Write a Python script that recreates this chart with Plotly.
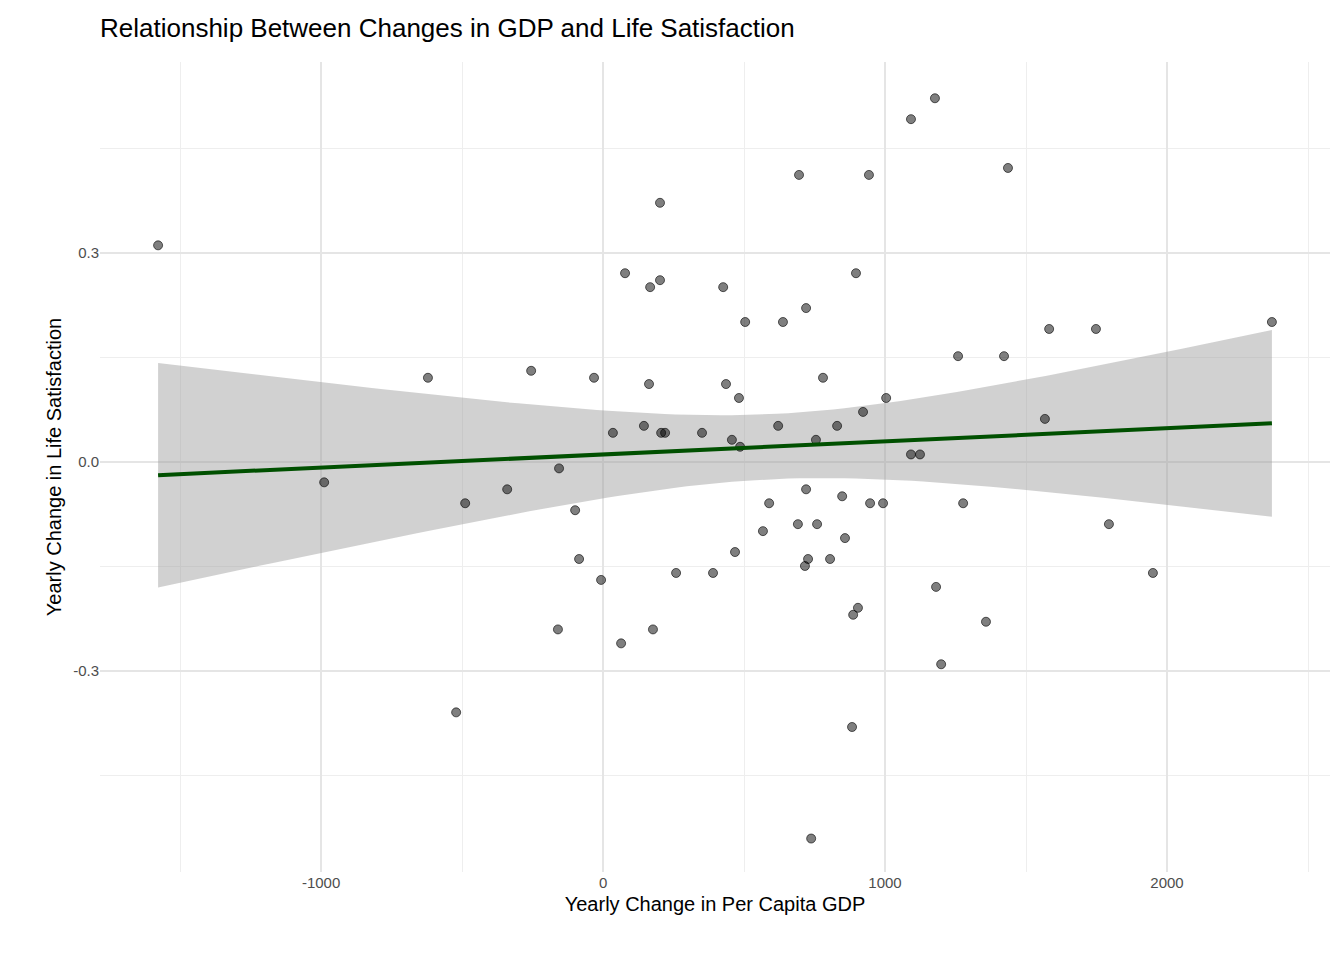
import numpy as np
import plotly.graph_objects as go

gdp_change = [-1578, 1177, 1092, 1436, 695, 943, 202, 78, 202, 167, 426, 897, 720, 504, 638,
              1582, 1748, 2372, 1259, 1422, -621, -255, -32, 163, 436, 780, 482, 922, 1004, 1567,
              35, 145, 206, 220, 351, 457, 486, 621, 755, 830, 1092, 1124, -989, -489, -340,
              -156, -99, -85, -7, 589, 567, 720, 691, 759, 848, 947, 993, 1277, 1794, 468,
              727, 716, 805, 858, 259, 390, 1950, 1181, 904, 887, 1358, -160, 177, 64, 1199,
              -521, 883, 738]
ls_change = [0.311, 0.522, 0.492, 0.422, 0.412, 0.412, 0.372, 0.271, 0.261, 0.251, 0.251, 0.271,
             0.221, 0.201, 0.201, 0.191, 0.191, 0.201, 0.152, 0.152, 0.121, 0.131, 0.121, 0.112,
             0.112, 0.121, 0.092, 0.072, 0.092, 0.062, 0.042, 0.052, 0.042, 0.042, 0.042, 0.032,
             0.022, 0.052, 0.032, 0.052, 0.011, 0.011, -0.029, -0.059, -0.039, -0.009, -0.069,
             -0.139, -0.169, -0.059, -0.099, -0.039, -0.089, -0.089, -0.049, -0.059, -0.059,
             -0.059, -0.089, -0.129, -0.139, -0.149, -0.139, -0.109, -0.159, -0.159, -0.159,
             -0.179, -0.209, -0.219, -0.229, -0.240, -0.240, -0.260, -0.290, -0.359, -0.380,
             -0.540]
x_ticks = [-1000, 0, 1000, 2000]
x_labels = ['-1000', '0', '1000', '2000']
y_ticks = [-0.3, 0, 0.3]
y_labels = ['-0.3', '0.0', '0.3']

# linear fit with 95% confidence band (like geom_smooth(method="lm"))
x = np.array(gdp_change, float)
y = np.array(ls_change, float)
n = len(x)
b1, b0 = np.polyfit(x, y, 1)
resid = y - (b0 + b1 * x)
s = np.sqrt((resid ** 2).sum() / (n - 2))
xs = np.linspace(x.min(), x.max(), 100)
fit = b0 + b1 * xs
se = s * np.sqrt(1 / n + (xs - x.mean()) ** 2 / ((x - x.mean()) ** 2).sum())
t = 1.992
lo, hi = fit - t * se, fit + t * se

fig = go.Figure()
fig.add_trace(go.Scatter(x=np.concatenate([xs, xs[::-1]]), y=np.concatenate([hi, lo[::-1]]),
                         fill='toself', fillcolor='rgba(153,153,153,0.45)',
                         line=dict(width=0), hoverinfo='skip'))
fig.add_trace(go.Scatter(x=x, y=y, mode='markers',
                         marker=dict(size=9, color='rgba(0,0,0,0.5)',
                                     line=dict(width=1, color='rgba(0,0,0,0.6)'))))
fig.add_trace(go.Scatter(x=xs, y=fit, mode='lines', line=dict(color='#005000', width=4)))

fig.update_layout(
    width=1344, height=960, showlegend=False,
    plot_bgcolor='white', paper_bgcolor='white',
    margin=dict(l=92, r=22, t=54, b=96),
    font=dict(family='Liberation Sans, Arial', color='black'),
    title=dict(text='Relationship Between Changes in GDP and Life Satisfaction',
               x=0, xref='paper', y=0.979, yref='container', yanchor='middle',
               font=dict(size=26)),
)
fig.update_xaxes(range=[-1784, 2578], tickvals=x_ticks, ticktext=x_labels,
                 gridcolor='#e5e5e5', gridwidth=2, zeroline=False,
                 tickfont=dict(size=15, color='#4d4d4d'),
                 minor=dict(tickvals=[-1500, -500, 500, 1500, 2500], showgrid=True,
                            gridcolor='#eeeeee', gridwidth=1),
                 title=dict(text='Yearly Change in Per Capita GDP', font=dict(size=20), standoff=6))
fig.update_yaxes(range=[-0.588, 0.574], tickvals=y_ticks, ticktext=y_labels,
                 gridcolor='#e5e5e5', gridwidth=2, zeroline=False,
                 tickfont=dict(size=15, color='#4d4d4d'),
                 minor=dict(tickvals=[-0.45, -0.15, 0.15, 0.45], showgrid=True,
                            gridcolor='#eeeeee', gridwidth=1),
                 title=dict(text='Yearly Change in Life Satisfaction', font=dict(size=20), standoff=6))
fig.write_html("out.html")
